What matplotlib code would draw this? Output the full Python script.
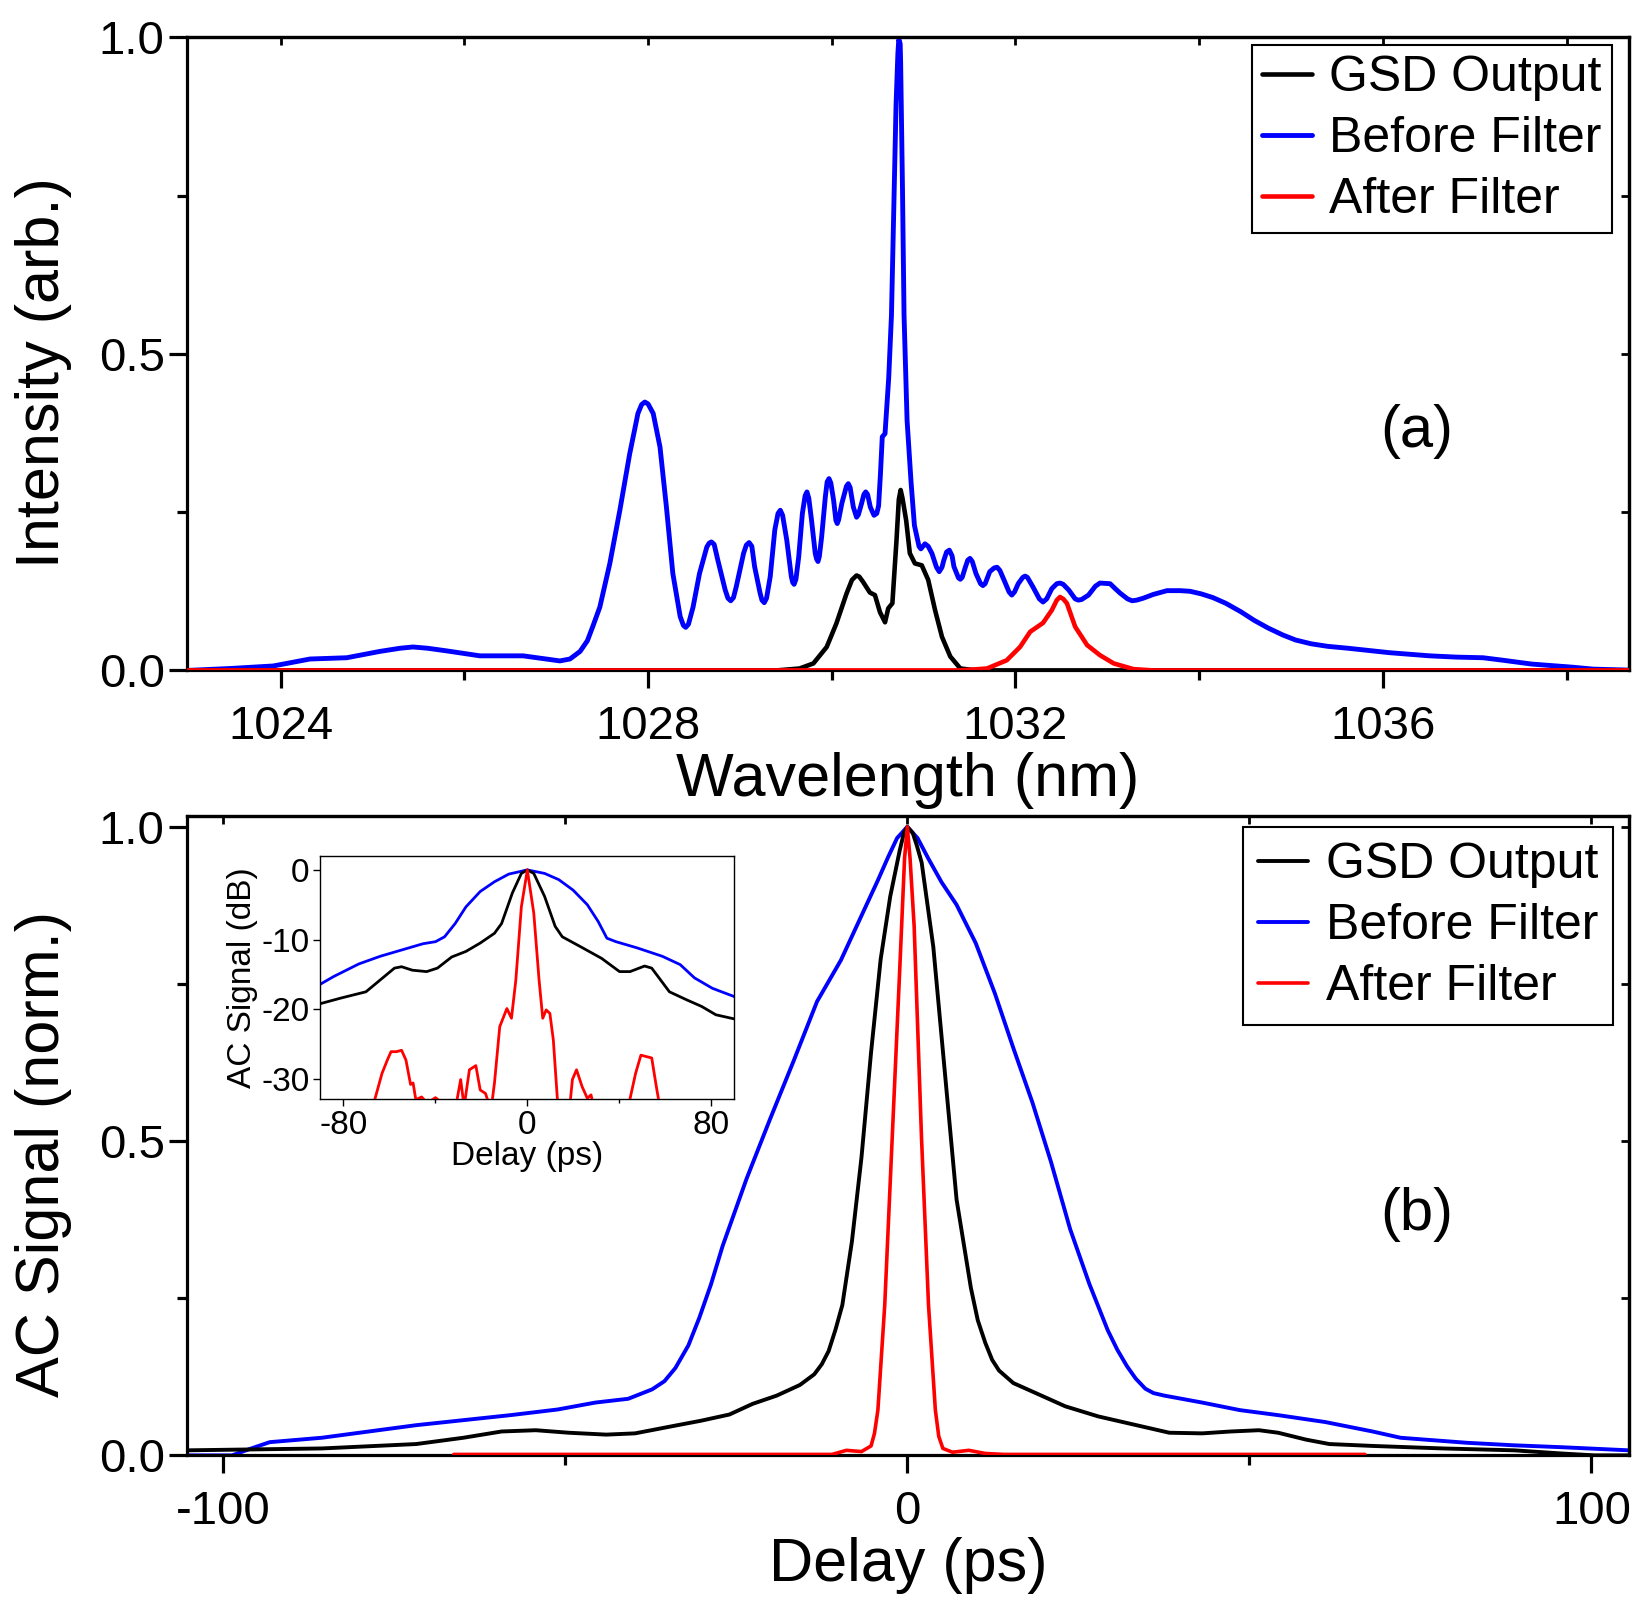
import matplotlib
matplotlib.use("Agg")
import matplotlib.pyplot as plt
from matplotlib.ticker import FixedLocator, FormatStrFormatter

plt.rcParams['font.family'] = ['Liberation Sans', 'DejaVu Sans']
plt.rcParams['axes.unicode_minus'] = False

# ---------------- Panel (a): spectra ----------------
wl_before = [1022.99, 1023.45, 1023.92, 1024.32, 1024.72, 1025.08, 1025.30, 1025.44, 1025.60, 1025.80, 1026.17,
             1026.64, 1026.89, 1027.04, 1027.15, 1027.26, 1027.34, 1027.40, 1027.475, 1027.584, 1027.693,
             1027.80, 1027.89, 1027.93, 1027.965, 1028.00, 1028.056, 1028.13, 1028.20, 1028.27, 1028.35, 1028.385, 1028.41,
             1028.44, 1028.49, 1028.56, 1028.64, 1028.665, 1028.69, 1028.72, 1028.76, 1028.84, 1028.87, 1028.90, 1028.93, 1028.96, 1029.04,
             1029.07, 1029.10, 1029.13, 1029.16, 1029.22, 1029.24, 1029.265, 1029.29, 1029.33, 1029.38, 1029.415, 1029.44, 1029.465, 1029.51, 1029.56,
             1029.575, 1029.59, 1029.61, 1029.64, 1029.68, 1029.71, 1029.73, 1029.75, 1029.78, 1029.82, 1029.835, 1029.85, 1029.865, 1029.89, 1029.93,
             1029.95, 1029.97, 1029.99, 1030.02, 1030.045, 1030.06, 1030.075, 1030.11, 1030.16, 1030.18, 1030.20, 1030.235, 1030.27, 1030.29, 1030.325, 1030.35, 1030.37, 1030.39,
             1030.42, 1030.46, 1030.49, 1030.51, 1030.53, 1030.55, 1030.58, 1030.62, 1030.65,
             1030.68, 1030.70, 1030.72, 1030.73, 1030.745, 1030.75, 1030.77, 1030.787, 1030.82, 1030.864, 1030.90,
             1030.95, 1030.97, 1031.015, 1031.05, 1031.09, 1031.14, 1031.17, 1031.20, 1031.22, 1031.25, 1031.28, 1031.31, 1031.33, 1031.38, 1031.40, 1031.42,
             1031.45, 1031.48, 1031.505, 1031.53, 1031.57, 1031.62, 1031.645, 1031.67, 1031.72, 1031.77, 1031.80, 1031.83, 1031.875, 1031.93, 1031.96, 1031.99, 1032.03,
             1032.08, 1032.105, 1032.13, 1032.19, 1032.26, 1032.30, 1032.34, 1032.395, 1032.45, 1032.485, 1032.52, 1032.58, 1032.65, 1032.685, 1032.72, 1032.795, 1032.87, 1032.92,
             1033.03, 1033.08, 1033.14, 1033.22, 1033.27, 1033.32, 1033.39, 1033.50, 1033.65, 1033.79, 1033.90, 1034.02, 1034.15, 1034.29,
             1034.45, 1034.60, 1034.75, 1034.91, 1035.05, 1035.22, 1035.40, 1035.62, 1036.07, 1036.51, 1036.80, 1037.09, 1037.31, 1037.62,
             1038.07, 1038.29, 1038.68]
int_before = [0.0, 0.003, 0.007, 0.018, 0.020, 0.030, 0.035, 0.037, 0.035, 0.031, 0.023,
              0.023, 0.018, 0.015, 0.018, 0.030, 0.047, 0.070, 0.100, 0.169, 0.253,
              0.342, 0.406, 0.420, 0.424, 0.421, 0.406, 0.353, 0.258, 0.153, 0.085, 0.071, 0.068,
              0.073, 0.100, 0.153, 0.195, 0.201, 0.203, 0.199, 0.174, 0.127, 0.114, 0.110, 0.115, 0.132, 0.185,
              0.198, 0.202, 0.196, 0.164, 0.122, 0.111, 0.107, 0.114, 0.148, 0.222, 0.248, 0.253, 0.245, 0.206, 0.148,
              0.139, 0.136, 0.144, 0.179, 0.248, 0.276, 0.282, 0.272, 0.237, 0.185, 0.176, 0.172, 0.180, 0.211, 0.274,
              0.298, 0.303, 0.296, 0.269, 0.237, 0.232, 0.238, 0.264, 0.291, 0.295, 0.289, 0.258, 0.242, 0.246, 0.264, 0.278, 0.282, 0.278,
              0.258, 0.245, 0.248, 0.260, 0.310, 0.369, 0.374, 0.462, 0.561,
              0.761, 0.894, 0.975, 0.997, 0.990, 0.960, 0.761, 0.561, 0.395, 0.296, 0.229,
              0.196, 0.192, 0.200, 0.196, 0.185, 0.163, 0.156, 0.163, 0.174, 0.187, 0.190, 0.181, 0.164, 0.146, 0.144, 0.147,
              0.161, 0.174, 0.177, 0.172, 0.153, 0.137, 0.134, 0.137, 0.156, 0.162, 0.163, 0.158, 0.143, 0.124, 0.119, 0.124, 0.137,
              0.147, 0.149, 0.147, 0.132, 0.113, 0.108, 0.113, 0.129, 0.137, 0.138, 0.136, 0.127, 0.113, 0.111, 0.112, 0.119, 0.133, 0.138,
              0.137, 0.130, 0.122, 0.113, 0.110, 0.111, 0.114, 0.120, 0.126, 0.126, 0.125, 0.121, 0.115, 0.106,
              0.093, 0.079, 0.067, 0.056, 0.048, 0.042, 0.038, 0.035, 0.028, 0.023, 0.021, 0.020, 0.016, 0.010,
              0.005, 0.002, 0.0005]

wl_gsd = [1022.99, 1029.40, 1029.65, 1029.80, 1029.945, 1030.05, 1030.16, 1030.22, 1030.27, 1030.30, 1030.34,
          1030.415, 1030.47, 1030.525, 1030.58, 1030.615, 1030.66, 1030.705, 1030.73, 1030.75, 1030.77, 1030.81,
          1030.85, 1030.905, 1030.98, 1031.05, 1031.125, 1031.20, 1031.29, 1031.40, 1031.58,
          1038.68]
int_gsd = [0.0, 0.0, 0.003, 0.011, 0.037, 0.074, 0.121, 0.143, 0.150, 0.148, 0.140,
           0.123, 0.119, 0.092, 0.076, 0.098, 0.106, 0.206, 0.270, 0.285, 0.272, 0.237,
           0.185, 0.169, 0.166, 0.143, 0.095, 0.053, 0.022, 0.003, 0.0,
           0.0]

wl_after = [1022.99, 1031.40, 1031.69, 1031.905, 1032.05, 1032.16, 1032.30, 1032.395, 1032.45, 1032.485,
            1032.52, 1032.56, 1032.65, 1032.78, 1032.92, 1033.07, 1033.285, 1033.50, 1038.68]
int_after = [0.0, 0.0, 0.003, 0.016, 0.037, 0.061, 0.075, 0.095, 0.111, 0.116,
             0.113, 0.106, 0.069, 0.040, 0.024, 0.011, 0.002, 0.0, 0.0]

# ---------------- Panel (b): autocorrelation (linear) ----------------
dl_before = [-105.3, -98.7, -95.9, -93.2, -85.6, -78.7, -71.8, -64.9, -58.0, -51.1, -45.6,
             -40.8, -37.3, -35.5, -33.9, -32.0, -30.4, -28.7, -27.0, -23.5, -20.1, -16.6, -13.2, -9.7, -6.26,
             -4.3, -2.8, -1.5, 0.0, 1.5, 3.1, 5.0, 7.2, 10.0, 12.8, 15.5, 18.3, 21.0, 23.8, 26.6, 29.3, 30.7, 32.1,
             33.4, 34.8, 36.0, 37.6, 43.1, 48.6, 54.2, 61.1, 68.0, 72.1, 81.8, 88.7, 95.6, 105.5]
ac_before = [0.0, 0.0, 0.011, 0.021, 0.028, 0.038, 0.048, 0.056, 0.064, 0.073, 0.084,
             0.090, 0.105, 0.118, 0.139, 0.175, 0.219, 0.272, 0.333, 0.440, 0.534, 0.628, 0.722, 0.788, 0.869,
             0.915, 0.952, 0.982, 1.0, 0.982, 0.949, 0.912, 0.876, 0.815, 0.735, 0.648, 0.561, 0.467, 0.360, 0.273, 0.199, 0.168, 0.142,
             0.122, 0.106, 0.099, 0.095, 0.084, 0.072, 0.064, 0.053, 0.038, 0.028, 0.020, 0.016, 0.013, 0.008]

dl_gsd = [-105.3, -85.6, -71.8, -64.9, -59.3, -54.3, -49.5, -44.0, -39.8, -33.6, -30.2,
          -26.0, -22.6, -19.1, -15.7, -13.6, -12.5, -11.5, -10.5, -9.5, -8.1, -6.7, -5.3, -3.9, -2.5,
          -1.1, -0.5, 0.0, 0.8, 1.4, 2.1, 3.8, 5.5, 7.2, 9.3, 10.3, 11.4, 12.4, 13.4, 15.5, 19.0, 23.1, 27.9, 33.5,
          38.3, 43.1, 47.3, 51.4, 54.2, 58.3, 61.7, 68.0, 78.3, 88.7, 95.6, 100.4, 105.5]
ac_gsd = [0.008, 0.011, 0.018, 0.028, 0.038, 0.040, 0.036, 0.033, 0.035, 0.048, 0.055,
          0.065, 0.082, 0.095, 0.112, 0.129, 0.145, 0.166, 0.200, 0.239, 0.340, 0.474, 0.641, 0.789, 0.889,
          0.963, 0.990, 1.0, 0.990, 0.970, 0.943, 0.809, 0.608, 0.407, 0.266, 0.215, 0.179, 0.152, 0.135, 0.115, 0.098, 0.078, 0.062, 0.048,
          0.036, 0.035, 0.038, 0.040, 0.036, 0.025, 0.018, 0.015, 0.011, 0.008, 0.003, 0.0, 0.0]

dl_after = [-66.3, -11.0, -8.9, -6.7, -5.3, -4.8, -4.3, -3.3, -2.2, -1.1, -0.4, 0.0, 0.4, 1.0, 2.07, 3.1,
            4.1, 4.6, 5.2, 6.6, 9.0, 11.4, 14.1, 66.9]
ac_after = [0.0015, 0.0015, 0.008, 0.006, 0.015, 0.035, 0.072, 0.239, 0.507, 0.775, 0.95, 1.0, 0.95, 0.842, 0.507, 0.239,
            0.072, 0.030, 0.011, 0.005, 0.008, 0.003, 0.0015, 0.0015]

# ---------------- Inset: autocorrelation (dB) ----------------
in_dl_before = [-90.0, -84.2, -73.3, -64.0, -54.7, -45.4, -39.9, -36.0, -31.4, -26.7, -20.5,
                -14.3, -8.1, 0.0, 7.5, 13.7, 19.9, 26.1, 30.8, 34.6, 38.5, 47.8, 58.7, 66.5,
                72.7, 80.5, 90.1]
in_db_before = [-16.4, -15.3, -13.5, -12.4, -11.5, -10.6, -10.3, -9.6, -7.7, -5.3, -3.1,
                -1.7, -0.6, 0.0, -0.5, -1.4, -2.9, -5.0, -7.4, -9.8, -10.3, -11.2, -12.4, -13.6,
                -15.5, -17.0, -18.2]

in_dl_gsd = [-90.0, -81.1, -70.2, -64.0, -57.8, -54.7, -50.0, -43.8, -39.1, -32.9, -26.7,
             -20.5, -14.3, -11.2, -6.5, -2.6, 0.0, 2.8, 7.5, 12.1, 15.2, 23.0, 32.3, 40.1,
             44.7, 51.0, 54.1, 61.8, 69.6, 75.8, 82.0, 90.1]
in_db_gsd = [-19.2, -18.4, -17.5, -15.8, -14.1, -13.9, -14.4, -14.6, -14.1, -12.5, -11.7,
             -10.5, -9.1, -7.7, -3.3, -0.5, 0.0, -0.5, -3.8, -8.1, -9.6, -11.0, -12.7, -14.6,
             -14.6, -13.8, -14.1, -17.5, -18.7, -19.6, -20.8, -21.4]

in_dl_after = [-70.0, -66.3, -63.2, -60.9, -59.3, -57.0, -54.7, -52.8, -50.8, -49.7, -48.5,
               -46.0, -43.5, -40.0, -36.5, -33.5, -31.4, -29.0, -27.5, -25.2, -22.4, -20.5,
               -18.2, -15.8, -14.3, -12.0, -8.9, -6.9, -5.0, -2.6, 0.0, 2.8, 5.1, 6.7,
               8.2, 9.8, 11.3, 13.4, 18.3, 19.6, 21.4, 23.8, 26.1, 27.7, 29.2, 44.0,
               44.7, 47.1, 49.4, 51.7, 54.1, 56.1, 57.9, 61.0, 63.0, 90.0]
in_db_after = [-40.0, -32.9, -29.2, -27.3, -26.1, -26.1, -25.9, -27.3, -30.8, -30.6, -33.0,
               -32.6, -33.5, -32.7, -33.6, -33.5, -34.5, -30.1, -34.0, -28.7, -28.1, -31.6,
               -32.1, -34.5, -30.6, -22.5, -19.9, -21.3, -15.8, -5.3, 0.0, -6.2, -15.8, -21.3,
               -20.1, -20.6, -24.4, -34.5, -34.5, -30.1, -28.7, -31.1, -32.8, -32.3, -34.5, -34.5,
               -32.8, -29.2, -26.6, -26.8, -27.0, -31.1, -34.5, -33.3, -40.0, -40.0]

labels = ['GSD Output', 'Before Filter', 'After Filter']
colors = ['#000000', '#0000ff', '#ff0000']

TICK_FS = 34
LABEL_FS = 44
LEG_FS = 36

fig = plt.figure(figsize=(16.5, 16), dpi=100)

def style_main(ax, xmaj, xmin, ymaj, ymin):
    ax.xaxis.set_major_locator(FixedLocator(xmaj))
    ax.xaxis.set_minor_locator(FixedLocator(xmin))
    ax.yaxis.set_major_locator(FixedLocator(ymaj))
    ax.yaxis.set_minor_locator(FixedLocator(ymin))
    for s in ax.spines.values():
        s.set_linewidth(2.3)
    ax.tick_params(which='major', direction='out', length=13, width=2.3,
                   labelsize=TICK_FS, pad=3)
    ax.tick_params(which='minor', direction='out', length=7, width=2.3)
    ax.tick_params(axis='x', which='major', pad=12)
    sx = ax.secondary_xaxis('top')
    sx.xaxis.set_major_locator(FixedLocator(xmaj))
    sx.xaxis.set_minor_locator(FixedLocator(xmin))
    sx.tick_params(which='both', direction='in', length=6, width=2.0, labeltop=False)
    sx.spines['top'].set_linewidth(2.3)
    sy = ax.secondary_yaxis('right')
    sy.yaxis.set_major_locator(FixedLocator(ymaj))
    sy.yaxis.set_minor_locator(FixedLocator(ymin))
    sy.tick_params(which='both', direction='in', length=6, width=2.0, labelright=False)
    sy.spines['right'].set_linewidth(2.3)

kw = dict(solid_joinstyle='round', solid_capstyle='round')

# ---- Panel (a)
ax1 = fig.add_axes([0.1133, 0.581, 0.874, 0.3956])
ax1.plot(wl_gsd, int_gsd, color=colors[0], lw=3.3, label=labels[0], zorder=3, **kw)
ax1.plot(wl_before, int_before, color=colors[1], lw=3.5, label=labels[1], zorder=2, **kw)
ax1.plot(wl_after, int_after, color=colors[2], lw=3.3, label=labels[2], zorder=4, **kw)
ax1.set_xlim(1022.98, 1038.68)
ax1.set_ylim(0, 1.0)
style_main(ax1, [1024, 1028, 1032, 1036], [1026, 1030, 1034, 1038], [0.0, 0.5, 1.0], [0.25, 0.75])
ax1.yaxis.set_major_formatter(FormatStrFormatter('%.1f'))
ax1.set_xlabel('Wavelength (nm)', fontsize=LABEL_FS, labelpad=2)
ax1.set_ylabel('Intensity (arb.)', fontsize=LABEL_FS)
ax1.yaxis.set_label_coords(-0.080, 0.47)
leg1 = ax1.legend(loc='upper right', bbox_to_anchor=(0.988, 0.988), fontsize=LEG_FS,
                  frameon=True, fancybox=False, edgecolor='black', framealpha=1,
                  handlelength=1.0, handletextpad=0.35, borderpad=0.2, labelspacing=0.3,
                  borderaxespad=0.0)
leg1.get_frame().set_linewidth(1.5)
ax1.text(0.853, 0.378, '(a)', transform=ax1.transAxes, fontsize=43, ha='center', va='center')

# ---- Panel (b)
ax2 = fig.add_axes([0.1133, 0.0904, 0.874, 0.3999])
ax2.plot(dl_gsd, ac_gsd, color=colors[0], lw=2.8, label=labels[0], zorder=3, **kw)
ax2.plot(dl_before, ac_before, color=colors[1], lw=2.8, label=labels[1], zorder=2, **kw)
ax2.plot(dl_after, ac_after, color=colors[2], lw=2.6, label=labels[2], zorder=4, **kw)
ax2.set_xlim(-105.3, 105.5)
ax2.set_ylim(0, 1.018)
style_main(ax2, [-100, 0, 100], [-50, 50], [0.0, 0.5, 1.0], [0.25, 0.75])
ax2.yaxis.set_major_formatter(FormatStrFormatter('%.1f'))
ax2.set_xlabel('Delay (ps)', fontsize=LABEL_FS, labelpad=2)
ax2.set_ylabel('AC Signal (norm.)', fontsize=LABEL_FS)
ax2.yaxis.set_label_coords(-0.080, 0.471)
leg2 = ax2.legend(loc='upper right', bbox_to_anchor=(0.989, 0.982), fontsize=LEG_FS,
                  frameon=True, fancybox=False, edgecolor='black', framealpha=1,
                  handlelength=1.0, handletextpad=0.35, borderpad=0.3, labelspacing=0.3,
                  borderaxespad=0.0)
leg2.get_frame().set_linewidth(1.5)
ax2.text(0.853, 0.376, '(b)', transform=ax2.transAxes, fontsize=43, ha='center', va='center')

# ---- Inset
axin = fig.add_axes([0.1942, 0.3131, 0.2508, 0.1519])
axin.plot(in_dl_gsd, in_db_gsd, color=colors[0], lw=2.0, zorder=3, **kw)
axin.plot(in_dl_before, in_db_before, color=colors[1], lw=2.0, zorder=2, **kw)
axin.plot(in_dl_after, in_db_after, color=colors[2], lw=2.0, zorder=4, **kw)
axin.set_xlim(-90, 90)
axin.set_ylim(-32.9, 2.0)
axin.xaxis.set_major_locator(FixedLocator([-80, 0, 80]))
axin.xaxis.set_minor_locator(FixedLocator([-40, 40]))
axin.yaxis.set_major_locator(FixedLocator([0, -10, -20, -30]))
for s in axin.spines.values():
    s.set_linewidth(1.0)
axin.tick_params(which='major', direction='out', length=5, width=1.0, labelsize=24, pad=3)
axin.tick_params(which='minor', direction='out', length=3, width=1.0)
axin.set_xlabel('Delay (ps)', fontsize=24, labelpad=0)
axin.set_ylabel('AC Signal (dB)', fontsize=24, labelpad=2)

fig.savefig('out.png', dpi=100, facecolor='white')
